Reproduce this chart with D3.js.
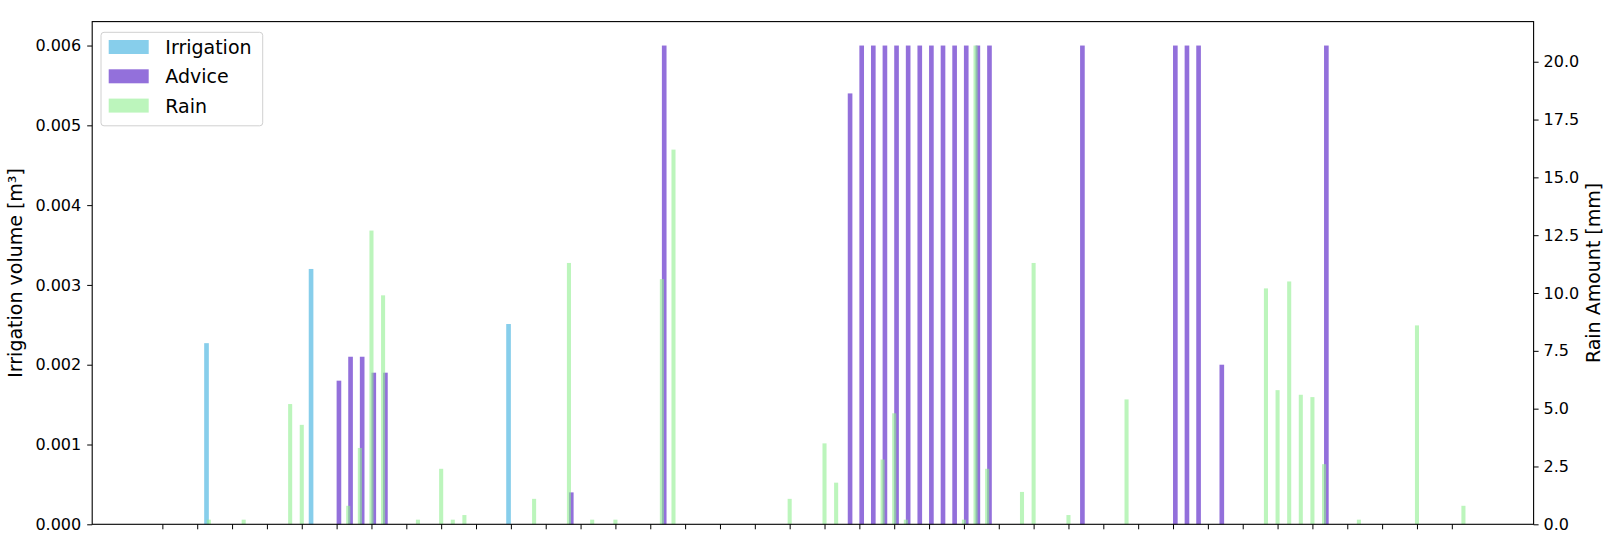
<!DOCTYPE html>
<html>
<head>
<meta charset="utf-8">
<script src="https://cdn.jsdelivr.net/npm/d3@7"></script>
<style>
  html, body { margin: 0; padding: 0; background: #fff; }
  svg text { font-family: "DejaVu Sans", sans-serif; fill: #000; }
</style>
</head>
<body>
<svg id="chart" width="1615" height="535"></svg>
<script>
// ---- data (day index within the observed period, one bar slot per day) ----
const dayCount = 113;                 // days 0 .. 112
const tickDays = d3.range(0, dayCount, 3);

const irrigationDays = [4, 13, 30];
const irrigationVol  = [0.00227, 0.0032, 0.00251];   // m³

const adviceDays = [15, 16, 17, 18, 19, 35, 43, 59, 60, 61, 62, 63, 64, 65, 66, 67, 68, 69, 70, 71, 79, 87, 88, 89, 91, 100];
const adviceVol  = [0.0018, 0.0021, 0.0021, 0.0019, 0.0019, 0.0004, 0.006, 0.0054, 0.006, 0.006, 0.006, 0.006, 0.006, 0.006, 0.006, 0.006, 0.006, 0.006, 0.006, 0.006, 0.006, 0.006, 0.006, 0.006, 0.002, 0.006];

const rainDays = [4, 7, 11, 12, 16, 17, 18, 19, 22, 24, 25, 26, 32, 35, 37, 39, 43, 44, 54, 57, 58, 62, 63, 64, 69, 70, 71, 74, 75, 78, 83, 95, 96, 97, 98, 99, 100, 103, 108, 112];
const rainMm   = [0.2, 0.2, 5.2, 4.3, 0.8, 3.3, 12.7, 9.9, 0.2, 2.4, 0.2, 0.4, 1.1, 11.3, 0.2, 0.2, 10.6, 16.2, 1.1, 3.5, 1.8, 2.8, 4.8, 0.2, 0.2, 20.7, 2.4, 1.4, 11.3, 0.4, 5.4, 10.2, 5.8, 10.5, 5.6, 5.5, 2.6, 0.2, 8.6, 0.8];

const leftTicks  = [0, 0.001, 0.002, 0.003, 0.004, 0.005, 0.006];
const rightTicks = [0, 2.5, 5, 7.5, 10, 12.5, 15, 17.5, 20];

const seriesNames  = ["Irrigation", "Advice", "Rain"];
const seriesColors = ["#87CEEB", "#9370DB", "#90EE90"];

// ---- layout ----
const svg = d3.select("#chart");
const M = { left: 92.2, right: 1533.6, top: 21.6, bottom: 524.3 };
const barW = 0.4, rainW = 0.35;

const xMin = 0 - barW, xMax = (dayCount - 1) + barW;
const xPad = (xMax - xMin) * 0.05;
const x = d3.scaleLinear().domain([xMin - xPad, xMax + xPad]).range([M.left, M.right]);

const yL = d3.scaleLinear().domain([0, d3.max(adviceVol.concat(irrigationVol)) * 1.05]).range([M.bottom, M.top]);
const yR = d3.scaleLinear().domain([0, d3.max(rainMm) * 1.05]).range([M.bottom, M.top]);

function bars(days, vals, y, offset, w, color, opacity) {
  svg.append("g").selectAll("rect")
    .data(days.map((d, i) => ({ d, v: vals[i] })))
    .join("rect")
    .attr("x", p => x(p.d + offset))
    .attr("width", p => x(p.d + offset + w) - x(p.d + offset))
    .attr("y", p => y(p.v))
    .attr("height", p => y(0) - y(p.v))
    .attr("fill", color)
    .attr("fill-opacity", opacity);
}

bars(irrigationDays, irrigationVol, yL, -barW, barW, seriesColors[0], 1);
bars(adviceDays, adviceVol, yL, 0, barW, seriesColors[1], 1);
bars(rainDays, rainMm, yR, -rainW / 2, rainW, seriesColors[2], 0.6);

// ---- axes ----
const axL = svg.append("g").attr("transform", `translate(${M.left},0)`)
  .call(d3.axisLeft(yL).tickValues(leftTicks).tickFormat(d3.format(".3f")).tickSize(5).tickPadding(6).tickSizeOuter(0));
const axR = svg.append("g").attr("transform", `translate(${M.right},0)`)
  .call(d3.axisRight(yR).tickValues(rightTicks).tickFormat(d3.format(".1f")).tickSize(5).tickPadding(5).tickSizeOuter(0));
const axB = svg.append("g").attr("transform", `translate(0,${M.bottom})`)
  .call(d3.axisBottom(x).tickValues(tickDays).tickFormat("").tickSize(5).tickSizeOuter(0));

[axL, axR, axB].forEach(a => {
  a.select(".domain").remove();
  a.selectAll("line").attr("stroke", "#000").attr("stroke-width", 1);
  a.selectAll("text").style("font-size", "16px").style("font-family", '"DejaVu Sans", sans-serif');
});

svg.append("rect")
  .attr("x", M.left).attr("y", M.top)
  .attr("width", M.right - M.left).attr("height", M.bottom - M.top)
  .attr("fill", "none").attr("stroke", "#000").attr("stroke-width", 1.1);

svg.append("text")
  .attr("transform", `translate(22,${(M.top + M.bottom) / 2}) rotate(-90)`)
  .attr("text-anchor", "middle").style("font-size", "19px")
  .text("Irrigation volume [m³]");

svg.append("text")
  .attr("transform", `translate(1600,${(M.top + M.bottom) / 2}) rotate(-90)`)
  .attr("text-anchor", "middle").style("font-size", "19px")
  .text("Rain Amount [mm]");

// ---- legend ----
const lg = svg.append("g");
lg.append("rect").attr("x", 101).attr("y", 32.3).attr("width", 161.7).attr("height", 93.5)
  .attr("rx", 3).attr("fill", "#fff").attr("fill-opacity", 0.8)
  .attr("stroke", "#d0d0d0").attr("stroke-width", 1);
seriesNames.forEach((name, i) => {
  const base = 54 + i * 29.3;
  lg.append("rect").attr("x", 108.7).attr("y", base - 14).attr("width", 40).attr("height", 14)
    .attr("fill", seriesColors[i]).attr("fill-opacity", i === 2 ? 0.6 : 1);
  lg.append("text").attr("x", 165.3).attr("y", base).style("font-size", "19px").text(name);
});
</script>
</body>
</html>
